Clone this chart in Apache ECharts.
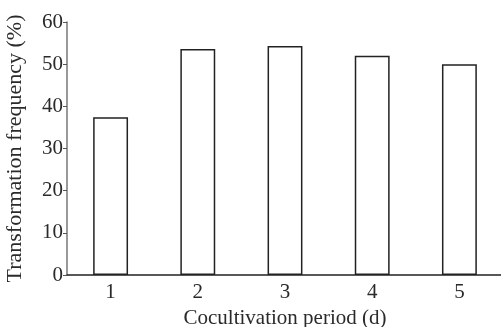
<!DOCTYPE html>
<html>
<head>
<meta charset="utf-8">
<script src="https://cdn.jsdelivr.net/npm/echarts@6/dist/echarts.min.js"></script>
<style>
    html, body {margin: 0; padding: 0; background: #fff;}
    #chart {width: 501px; height: 327px;}
</style>
</head>
<body>
<div id="chart"></div>
<script>
'use strict';

// 数据
let periods = ['1', '2', '3', '4', '5'];
let frequency = [37.4, 53.6, 54.3, 52.0, 50.0];

let fontFamily = '"Liberation Serif", "DejaVu Serif", serif';

let myChart = echarts.init(document.getElementById('chart'));
let option = {
    animation: false,
    grid: {
        left: 67,
        right: -2,
        top: 22,
        bottom: 52,
        outerBoundsMode: 'none'
    },
    xAxis: {
        type: 'category',
        data: periods,
        name: 'Cocultivation period (d)',
        nameLocation: 'middle',
        nameGap: 26,
        nameTextStyle: {color: '#2a2a2a', fontSize: 21, fontFamily: fontFamily},
        axisLine: {lineStyle: {color: '#222', width: 1.5}},
        axisTick: {inside: true, length: 4, lineStyle: {color: '#555'}},
        axisLabel: {color: '#2a2a2a', fontSize: 21, fontFamily: fontFamily, margin: 7}
    },
    yAxis: {
        type: 'value',
        min: 0,
        max: 60,
        interval: 10,
        name: 'Transformation frequency (%)',
        nameLocation: 'middle',
        nameGap: 41,
        nameTextStyle: {color: '#2a2a2a', fontSize: 22, fontFamily: fontFamily},
        axisLine: {show: true, lineStyle: {color: '#777', width: 1.5}},
        axisTick: {show: true, length: 4, lineStyle: {color: '#555'}},
        axisLabel: {color: '#2a2a2a', fontSize: 21, fontFamily: fontFamily, margin: 4},
        splitLine: {show: false}
    },
    series: [{
        type: 'bar',
        data: frequency,
        barWidth: '40%',
        itemStyle: {color: '#fff', borderColor: '#222', borderWidth: 1.5}
    }]
};
myChart.setOption(option);
</script>
</body>
</html>
